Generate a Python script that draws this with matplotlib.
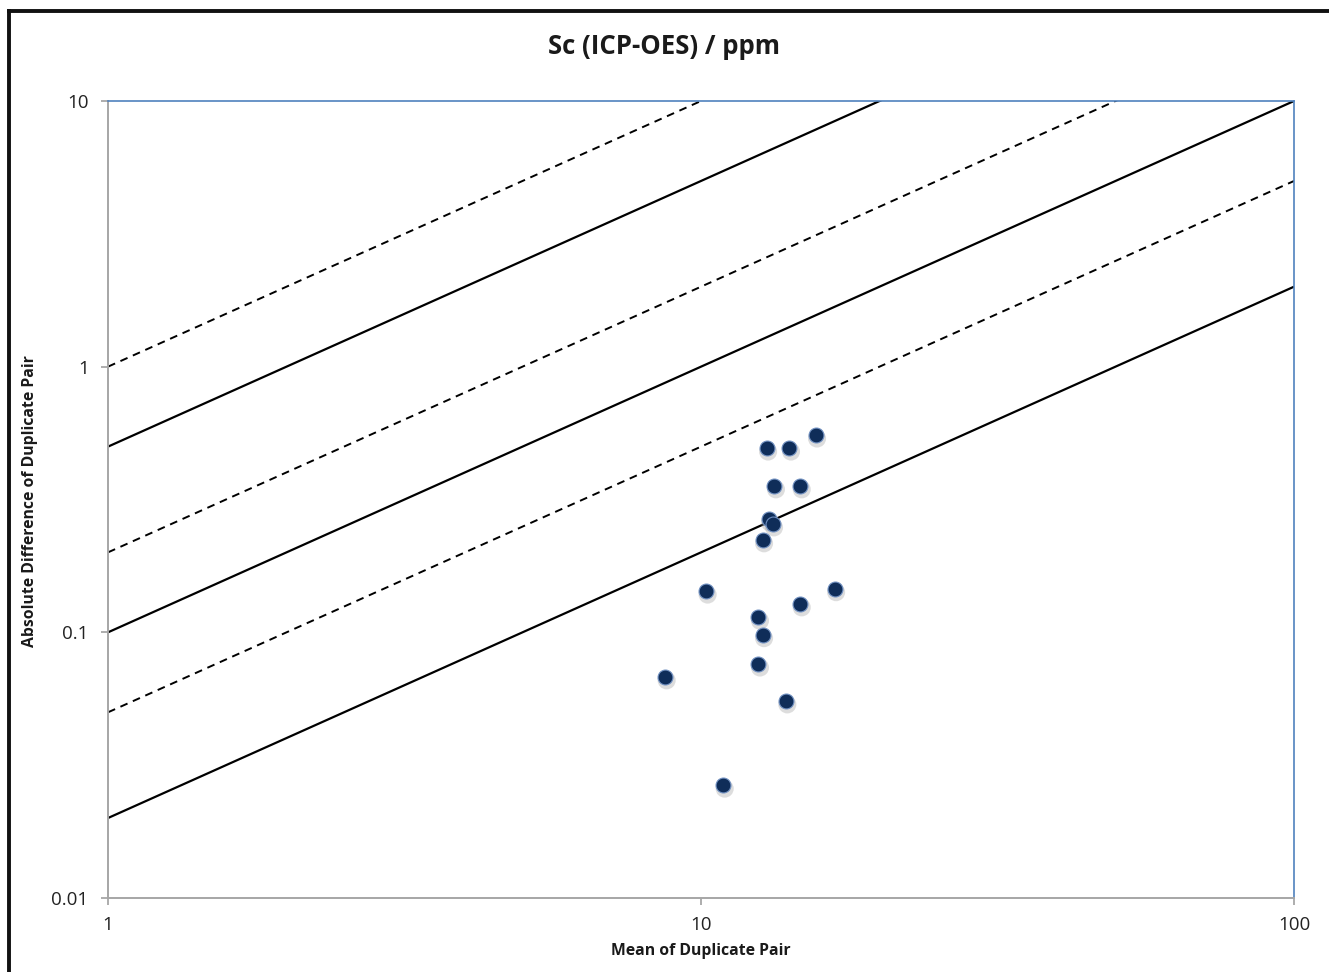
import matplotlib.pyplot as plt
from matplotlib.lines import Line2D
from matplotlib.transforms import offset_copy
import numpy as np

# duplicate pair data
mean_pair = [8.7, 10.2, 10.9, 12.5, 12.5, 12.7, 12.7, 12.9, 13.0, 13.2, 13.3,
             13.9, 14.1, 14.7, 14.7, 15.6, 16.8]
abs_diff = [0.068, 0.143, 0.0266, 0.076, 0.114, 0.098, 0.223, 0.494, 0.267,
            0.256, 0.356, 0.0552, 0.494, 0.128, 0.356, 0.553, 0.146]

# precision reference lines: |diff| = k * mean
solid_k = [0.5, 0.1, 0.02]
dashed_k = [1.0, 0.2, 0.05]

plt.rcParams["font.family"] = ["Open Sans", "DejaVu Sans"]

fig = plt.figure(figsize=(13.29, 9.72), dpi=100)
ax = fig.add_axes([108 / 1329, 1 - 898 / 972, (1294 - 108) / 1329, (898 - 101) / 972])

ax.set_xscale("log")
ax.set_yscale("log")
ax.set_xlim(1, 100)
ax.set_ylim(0.01, 10)

xs = np.array([1.0, 100.0])
for k in solid_k:
    ax.plot(xs, k * xs, color="black", lw=1.6, solid_capstyle="butt")
for k in dashed_k:
    ax.plot(xs, k * xs, color="black", lw=1.4, dashes=(4, 3))

# soft shadow under markers
shadow = offset_copy(ax.transData, fig=fig, x=1.5, y=-3.5, units="dots")
ax.scatter(mean_pair, abs_diff, s=170, color="#a0a0a0", alpha=0.35,
           edgecolors="none", transform=shadow, zorder=3)
ax.scatter(mean_pair, abs_diff, s=115, color="#0f2d59",
           edgecolors="#6f8fc0", linewidths=0.8, zorder=4)

ax.set_xticks([1, 10, 100])
ax.set_xticklabels(["1", "10", "100"])
ax.set_yticks([0.01, 0.1, 1, 10])
ax.set_yticklabels(["0.01", "0.1", "1", "10"])
ax.minorticks_off()
ax.tick_params(axis="both", direction="out", length=5, width=1.2, color="#a0a0a0",
               labelsize=13.5, labelcolor="#222222")
ax.tick_params(axis="x", pad=8)
ax.tick_params(axis="y", pad=9)

for side in ["left", "bottom"]:
    ax.spines[side].set_color("#a6a6a6")
    ax.spines[side].set_linewidth(1.4)
for side in ["top", "right"]:
    ax.spines[side].set_color("#4f81bd")
    ax.spines[side].set_linewidth(1.2)

fig.text(0.5, 1 - 46 / 972, "Sc (ICP-OES) / ppm", ha="center", va="center",
         fontsize=18.5, fontweight="bold", color="#1a1a1a")
fig.text(701 / 1329, 1 - 951 / 972, "Mean of Duplicate Pair", ha="center", va="center",
         fontsize=11.3, fontweight="bold", color="#1a1a1a")
fig.text(30 / 1329, 1 - 501 / 972, "Absolute Difference of Duplicate Pair", ha="center",
         va="center", rotation=90, fontsize=11.3, fontweight="bold", color="#1a1a1a")

# outer frame (top and left edges visible)
fig.add_artist(Line2D([9 / 1329, 9 / 1329], [0, 1 - 11 / 972], transform=fig.transFigure,
                      color="#111111", lw=2.8))
fig.add_artist(Line2D([9 / 1329, 1], [1 - 11 / 972, 1 - 11 / 972], transform=fig.transFigure,
                      color="#111111", lw=2.8))

fig.savefig("out.png", dpi=100)
